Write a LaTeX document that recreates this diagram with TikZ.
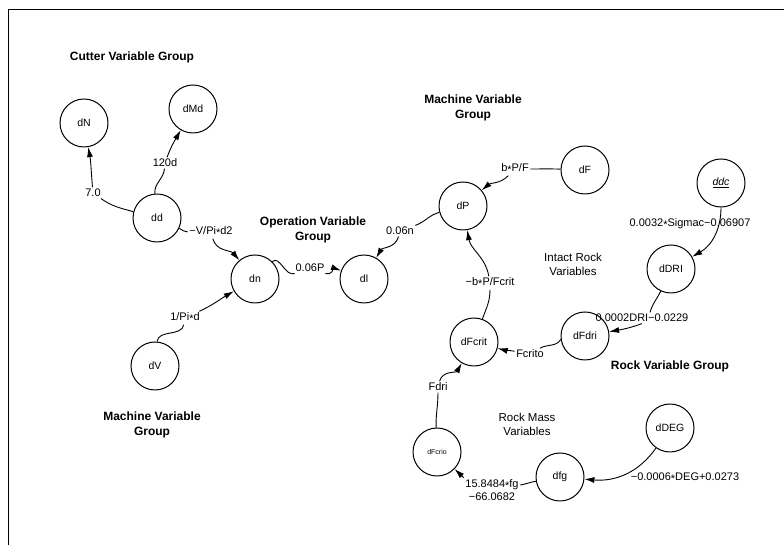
\documentclass[tikz,border=0pt]{standalone}
\usepackage{fontspec}
\setmainfont{Liberation Sans}
\usepackage{tikz}
\usetikzlibrary{arrows.meta}
\newcommand{\tms}{\raisebox{-0.35ex}{*}}

\begin{document}
\begin{tikzpicture}[x=1pt, y=1pt, font=\fontsize{10.5}{12}\selectfont,
    var/.style={draw, circle, minimum size=48pt, inner sep=0pt, line width=1pt},
    elab/.style={inner sep=1.5pt, font=\fontsize{11}{13}\selectfont},
    grp/.style={align=center, font=\bfseries\fontsize{12}{14.5}\selectfont},
    sub/.style={align=center, font=\fontsize{11.5}{14}\selectfont},
    conn/.style={line width=0.9pt},
    arr/.style={conn, -{Latex[length=10pt, width=6pt]}}]
    \useasboundingbox (0,0) rectangle (784,545);
    % frame
    \draw[line width=1pt] (8,0) -- (8,535) -- (784,535);
    % variables
    \node[var] (dN)    at (84,422)  {dN};
    \node[var] (dMd)   at (193,436) {dMd};
    \node[var] (dd)    at (157,327) {dd};
    \node[var] (dn)    at (255,266) {dn};
    \node[var] (dl)    at (364,266) {dl};
    \node[var] (dV)    at (155,179) {dV};
    \node[var] (dP)    at (463,339) {dP};
    \node[var] (dF)    at (585,375) {dF};
    \node[var] (ddc)   at (721,362) {\underline{\textit{ddc}}};
    \node[var] (dDRI)  at (671,276) {dDRI};
    \node[var] (dFdri) at (585,209) {dFdri};
    \node[var] (dFcrit) at (474,203) {dFcrit};
    \node[var, font=\fontsize{7}{8}\selectfont] (dFcrio) at (437,93) {dFcrio};
    \node[var] (dfg)   at (560,68)  {dfg};
    \node[var] (dDEG)  at (670,117) {dDEG};
    % group labels
    \node[grp] (gCutter)  at (132,488) {Cutter Variable Group};
    \node[grp] (gMachTop) at (473,437) {Machine Variable\\Group};
    \node[grp] (gOper)    at (313,315) {Operation Variable\\Group};
    \node[grp] (gMachBot) at (152,120) {Machine Variable\\Group};
    \node[sub] (gIntact)  at (573,281) {Intact Rock\\Variables};
    \node[grp] (gRock)    at (670,179) {Rock Variable Group};
    \node[sub] (gMass)    at (527,121) {Rock Mass\\Variables};
    % cutter group
    \node[elab] (l70) at (93,352) {7.0};
    \draw[conn] (dd) to[out=165,in=-35] (l70);
    \draw[arr] (l70) to[out=95,in=-80] (dN);
    \node[elab] (l120) at (165,382) {120d};
    \draw[conn] (dd) to[out=95,in=-95] (l120);
    \draw[arr] (l120) to[out=70,in=-120] (dMd);
    \node[elab] (lVPi) at (211,313) {−V/Pi\tms d2};
    \draw[conn] (dd) to[out=-25,in=180] (lVPi);
    \draw[arr] (lVPi) to[out=-75,in=130] (dn);
    % operation group
    \node[elab] (l006P) at (310,277) {0.06P};
    \draw[conn] (dn) to[out=45,in=200] (l006P);
    \draw[arr] (l006P) to[out=-20,in=160] (dl);
    \node[elab] (l1Pi) at (185,227) {1/Pi\tms d};
    \draw[conn] (dV) to[out=85,in=-100] (l1Pi);
    \draw[arr] (l1Pi) to[out=25,in=-150] (dn);
    \node[elab] (l006n) at (400,314) {0.06n};
    \draw[conn] (dP) to[out=195,in=20] (l006n);
    \draw[arr] (l006n) to[out=-105,in=60] (dl);
    \node[elab] (lbPF) at (515,376) {b\tms P/F};
    \draw[conn] (dF) to[out=178,in=0] (lbPF);
    \draw[arr] (lbPF) to[out=-135,in=40] (dP);
    % rock group
    \node[elab] (lSig) at (690,321) {0.0032\tms Sigmac−0.06907};
    \draw[arr] (ddc) to[out=-90,in=30] (dDRI);
    \node[elab] (l0002) at (642,227) {0.0002DRI−0.0229};
    \draw[conn] (dDRI) to[out=-115,in=75] ([xshift=8pt]l0002.north);
    \draw[arr] (l0002.south) to[out=-160,in=10] (dFdri);
    \node[elab] (lFcrito) at (530,191) {Fcrito};
    \draw[conn] (dFdri.188) to[out=-120,in=30] (lFcrito);
    \draw[arr] (lFcrito) to[out=170,in=-15] (dFcrit);
    \node[elab] (lbPFc) at (490,262) {−b\tms P/Fcrit};
    \draw[conn] (dFcrit) to[out=70,in=-90] (lbPFc);
    \draw[arr] (lbPFc) to[out=100,in=-80] (dP);
    \node[elab] (lFdri) at (438,158) {Fdri};
    \draw[conn] (dFcrio) to[out=92,in=-90] (lFdri);
    \draw[arr] (lFdri) to[out=75,in=-120] (dFcrit);
    \node[elab, align=center] (l158) at (492,55) {15.8484\tms fg\\−66.0682};
    \draw[conn] (dfg) to[out=190,in=10] (l158.10);
    \draw[arr] (l158.north west) -- (dFcrio);
    \node[elab] (lDEG) at (685,67) {−0.0006\tms DEG+0.0273};
    \draw[arr] (dDEG) to[out=-125,in=-5] (dfg);
\end{tikzpicture}
\end{document}
